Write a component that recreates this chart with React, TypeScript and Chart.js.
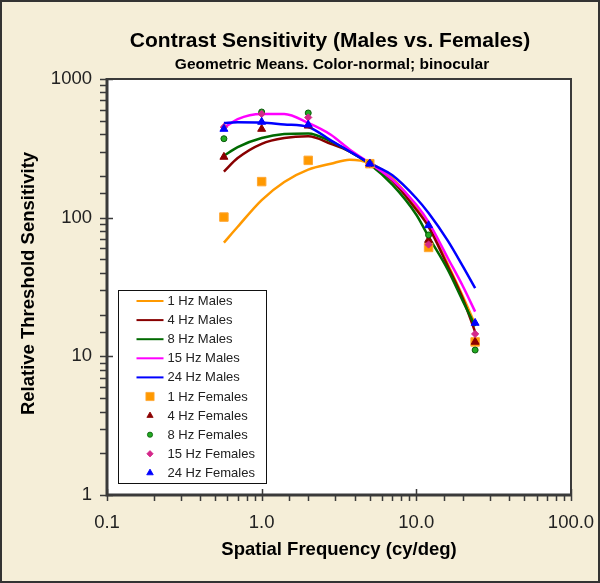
import { useEffect, useRef } from "react";
import { Chart, registerables } from "chart.js";

Chart.register(...registerables);

const TITLE = "Contrast Sensitivity (Males vs. Females)";
const SUBTITLE = "Geometric Means. Color-normal; binocular";
const X_TITLE = "Spatial Frequency (cy/deg)";
const Y_TITLE = "Relative Threshold Sensitivity";

const xTickValues = [0.1, 1, 10, 100];
const xTickLabels = ["0.1", "1.0", "10.0", "100.0"];
const yTickValues = [1, 10, 100, 1000];
const yTickLabels = ["1", "10", "100", "1000"];

// Male fitted curves
const maleFreqs = [0.57, 0.7, 1, 1.4, 2, 2.8, 3.7, 5, 7, 10, 12, 16, 20, 24];
const male1Hz = [66, 86, 134, 181, 222, 245, 262, 247, 193, 120, 89, 46, 27, 17];
const male4Hz = [215, 269, 341, 375, 386, 341, 300, 245, 184, 114, 86, 44.5, 26, 15];
const male8Hz = [280, 323, 375, 401, 405, 355, 300, 243, 173, 105, 73, 42, 25, 16.5];
const male15Hz = [443, 514, 560, 559, 482, 396, 310, 247, 188, 124, 93, 51, 32, 21];
const male24Hz = [482, 488, 486, 470, 451, 361, 301, 247, 202, 138, 108, 68, 44.5, 31];

// Female geometric means
const femaleFreqs = [0.57, 1, 2, 5, 12, 24];
const female1Hz = [101, 182, 259, 245, 61, 12.7];
const female4Hz = [274, 436, 460, 245, 69, 12.7];
const female8Hz = [371, 578, 569, 245, 75, 11.1];
const female15Hz = [450, 560, 528, 245, 64, 14.5];
const female24Hz = [436, 490, 468, 245, 88, 17.4];

const maleLabels = ["1 Hz Males", "4 Hz Males", "8 Hz Males", "15 Hz Males", "24 Hz Males"];
const maleColors = ["#ff9900", "#880000", "#006a00", "#ff00ff", "#0000ff"];
const maleValues = [male1Hz, male4Hz, male8Hz, male15Hz, male24Hz];

const femaleLabels = ["1 Hz Females", "4 Hz Females", "8 Hz Females", "15 Hz Females", "24 Hz Females"];
const femaleFill = ["#ff9900", "#8b0000", "#22aa22", "#d4288a", "#0000ff"];
const femaleStroke = ["#ffa733", "#8b0000", "#0b5a0b", "#d4288a", "#0000ff"];
const femaleStyles = ["rect", "triangle", "circle", "rectRot", "triangle"];
const femaleRadius = [6, 4.6, 3, 3.6, 4.6];
const femaleBorder = [1, 1, 1, 1, 1];
const femaleLegendRadius = [5.8, 3.6, 2.6, 3.2, 3.8];
const femaleValues = [female1Hz, female4Hz, female8Hz, female15Hz, female24Hz];

const FONT = "'Liberation Sans', Arial, Helvetica, sans-serif";
const BG = "#f5eed8";
const AXIS = "#3a3a3a";

function matchTick(values: number[], labels: string[], v: number): string {
  const i = values.findIndex((t) => Math.abs(t - v) / t < 1e-6);
  return i >= 0 ? labels[i] : "";
}

function isPow10(v: number): boolean {
  const l = Math.log10(v);
  return Math.abs(l - Math.round(l)) < 1e-6;
}

function drawMarker(
  ctx: CanvasRenderingContext2D,
  style: string,
  x: number,
  y: number,
  r: number,
  fill: string,
  stroke: string,
  bw: number
) {
  ctx.beginPath();
  if (style === "rect") {
    const s = Math.SQRT1_2 * r;
    ctx.rect(x - s, y - s, 2 * s, 2 * s);
  } else if (style === "triangle") {
    ctx.moveTo(x, y - r);
    ctx.lineTo(x + r * Math.sin((2 * Math.PI) / 3), y - r * Math.cos((2 * Math.PI) / 3));
    ctx.lineTo(x + r * Math.sin((4 * Math.PI) / 3), y - r * Math.cos((4 * Math.PI) / 3));
    ctx.closePath();
  } else if (style === "circle") {
    ctx.arc(x, y, r, 0, Math.PI * 2);
  } else {
    ctx.moveTo(x - r, y);
    ctx.lineTo(x, y - r);
    ctx.lineTo(x + r, y);
    ctx.lineTo(x, y + r);
    ctx.closePath();
  }
  ctx.fillStyle = fill;
  ctx.fill();
  if (bw > 0) {
    ctx.lineWidth = bw;
    ctx.strokeStyle = stroke;
    ctx.stroke();
  }
}

export default function App() {
  const ref = useRef<HTMLCanvasElement>(null);

  useEffect(() => {
    document.body.style.margin = "0";
    const canvas = ref.current;
    if (!canvas) return;

    const decor = {
      id: "decor",
      beforeDraw(chart: any) {
        const { ctx, chartArea: ca, width, height } = chart;
        ctx.save();
        ctx.fillStyle = BG;
        ctx.fillRect(0, 0, width, height);
        ctx.fillStyle = "#ffffff";
        ctx.fillRect(ca.left, ca.top, ca.right - ca.left, ca.bottom - ca.top);
        ctx.restore();
      },
      afterDraw(chart: any) {
        const { ctx, chartArea: ca, width, height } = chart;
        const xs = chart.scales.x;
        const ys = chart.scales.y;
        ctx.save();

        // outer border
        ctx.strokeStyle = "#333";
        ctx.lineWidth = 2;
        ctx.strokeRect(1, 1, width - 2, height - 2);

        // plot frame
        ctx.strokeStyle = AXIS;
        ctx.lineWidth = 2;
        ctx.beginPath();
        ctx.moveTo(ca.left, ca.top);
        ctx.lineTo(ca.right, ca.top);
        ctx.lineTo(ca.right, ca.bottom);
        ctx.stroke();
        ctx.lineWidth = 3;
        ctx.beginPath();
        ctx.moveTo(ca.left, ca.top - 1);
        ctx.lineTo(ca.left, ca.bottom);
        ctx.lineTo(ca.right + 1, ca.bottom);
        ctx.stroke();

        // tick marks
        ctx.lineWidth = 1.5;
        ctx.beginPath();
        ys.ticks.forEach((t: any) => {
          const py = Math.round(ys.getPixelForValue(t.value)) + 0.5;
          const major = isPow10(t.value);
          ctx.moveTo(ca.left - 7, py);
          ctx.lineTo(major ? ca.left + 6 : ca.left, py);
        });
        xs.ticks.forEach((t: any) => {
          const px = Math.round(xs.getPixelForValue(t.value)) + 0.5;
          const major = isPow10(t.value);
          ctx.moveTo(px, ca.bottom + 6);
          ctx.lineTo(px, major ? ca.bottom - 6 : ca.bottom);
        });
        ctx.stroke();

        // titles
        ctx.fillStyle = "#000";
        ctx.textAlign = "center";
        ctx.textBaseline = "alphabetic";
        ctx.font = `bold 21px ${FONT}`;
        ctx.fillText(TITLE, 330, 47);
        ctx.font = `bold 15.5px ${FONT}`;
        ctx.fillText(SUBTITLE, 332, 69);

        ctx.font = `bold 18.5px ${FONT}`;
        ctx.fillText(X_TITLE, 339, 555);
        ctx.save();
        ctx.translate(33.5, 283.5);
        ctx.rotate(-Math.PI / 2);
        ctx.fillText(Y_TITLE, 0, 0);
        ctx.restore();

        // legend
        const lx = 118.5;
        const ly = 290.5;
        const lw = 148;
        const lh = 193;
        ctx.fillStyle = "#ffffff";
        ctx.fillRect(lx, ly, lw, lh);
        ctx.strokeStyle = "#111";
        ctx.lineWidth = 1;
        ctx.strokeRect(lx, ly, lw, lh);
        ctx.font = `13px ${FONT}`;
        ctx.textAlign = "left";
        ctx.textBaseline = "middle";
        const datasets = chart.data.datasets;
        const rows = [
          ...datasets.filter((d: any) => d.showLine !== false),
          ...datasets.filter((d: any) => d.showLine === false),
        ];
        rows.forEach((d: any, i: number) => {
          const ry = 301 + i * 19.1;
          if (d.showLine !== false) {
            ctx.strokeStyle = d.borderColor;
            ctx.lineWidth = 2;
            ctx.beginPath();
            ctx.moveTo(136.5, ry);
            ctx.lineTo(163.5, ry);
            ctx.stroke();
          } else {
            drawMarker(ctx, d.pointStyle, 150, ry, d.legendRadius, d.backgroundColor, d.borderColor, 0.8);
          }
          ctx.fillStyle = "#222";
          ctx.fillText(d.label, 167.5, ry + 0.5);
        });

        ctx.restore();
      },
    };

    const lineSets = maleValues.map((vals, k) => ({
      type: "line" as const,
      label: maleLabels[k],
      data: maleFreqs.map((f, i) => ({ x: f, y: vals[i] })),
      borderColor: maleColors[k],
      backgroundColor: maleColors[k],
      borderWidth: 2.5,
      pointRadius: 0,
      showLine: true,
      fill: false,
      cubicInterpolationMode: "monotone" as const,
      order: 9 - k,
    }));

    const pointSets = femaleValues.map((vals, k) => ({
      type: "line" as const,
      label: femaleLabels[k],
      data: femaleFreqs.map((f, i) => ({ x: f, y: vals[i] })),
      showLine: false,
      pointStyle: femaleStyles[k],
      pointRadius: femaleRadius[k],
      pointBorderWidth: femaleBorder[k],
      backgroundColor: femaleFill[k],
      borderColor: femaleStroke[k],
      pointBackgroundColor: femaleFill[k],
      pointBorderColor: femaleStroke[k],
      legendRadius: femaleLegendRadius[k],
      order: 4 - k,
    }));

    const chart = new Chart(canvas, {
      type: "line",
      data: { datasets: [...lineSets, ...pointSets] as any },
      options: {
        responsive: false,
        animation: false,
        devicePixelRatio: 1,
        layout: { padding: { top: 79, right: 29, left: 0, bottom: 0 } },
        plugins: {
          legend: { display: false },
          tooltip: { enabled: false },
          title: { display: false },
        },
        scales: {
          x: {
            type: "logarithmic",
            min: 0.1,
            max: 100,
            position: "bottom",
            afterFit: (s: any) => {
              s.height = 88;
              s.paddingLeft = 0;
              s.paddingRight = 0;
            },
            grid: { display: false, drawTicks: false },
            border: { display: false },
            ticks: {
              autoSkip: false,
              maxRotation: 0,
              minRotation: 0,
              padding: 17,
              color: "#222",
              font: { family: FONT, size: 18.5 },
              callback: (v: any) => matchTick(xTickValues, xTickLabels, Number(v)),
            },
          },
          y: {
            type: "logarithmic",
            min: 1,
            max: 1000,
            position: "left",
            afterFit: (s: any) => {
              s.width = 107;
              s.paddingTop = 0;
              s.paddingBottom = 0;
            },
            grid: { display: false, drawTicks: false },
            border: { display: false },
            ticks: {
              autoSkip: false,
              padding: 15,
              color: "#222",
              font: { family: FONT, size: 18.5 },
              callback: (v: any) => matchTick(yTickValues, yTickLabels, Number(v)),
            },
          },
        },
      } as any,
      plugins: [decor],
    });

    return () => {
      chart.destroy();
    };
  }, []);

  return (
    <div style={{ width: 600, height: 583 }}>
      <canvas ref={ref} width={600} height={583} style={{ display: "block" }} />
    </div>
  );
}
